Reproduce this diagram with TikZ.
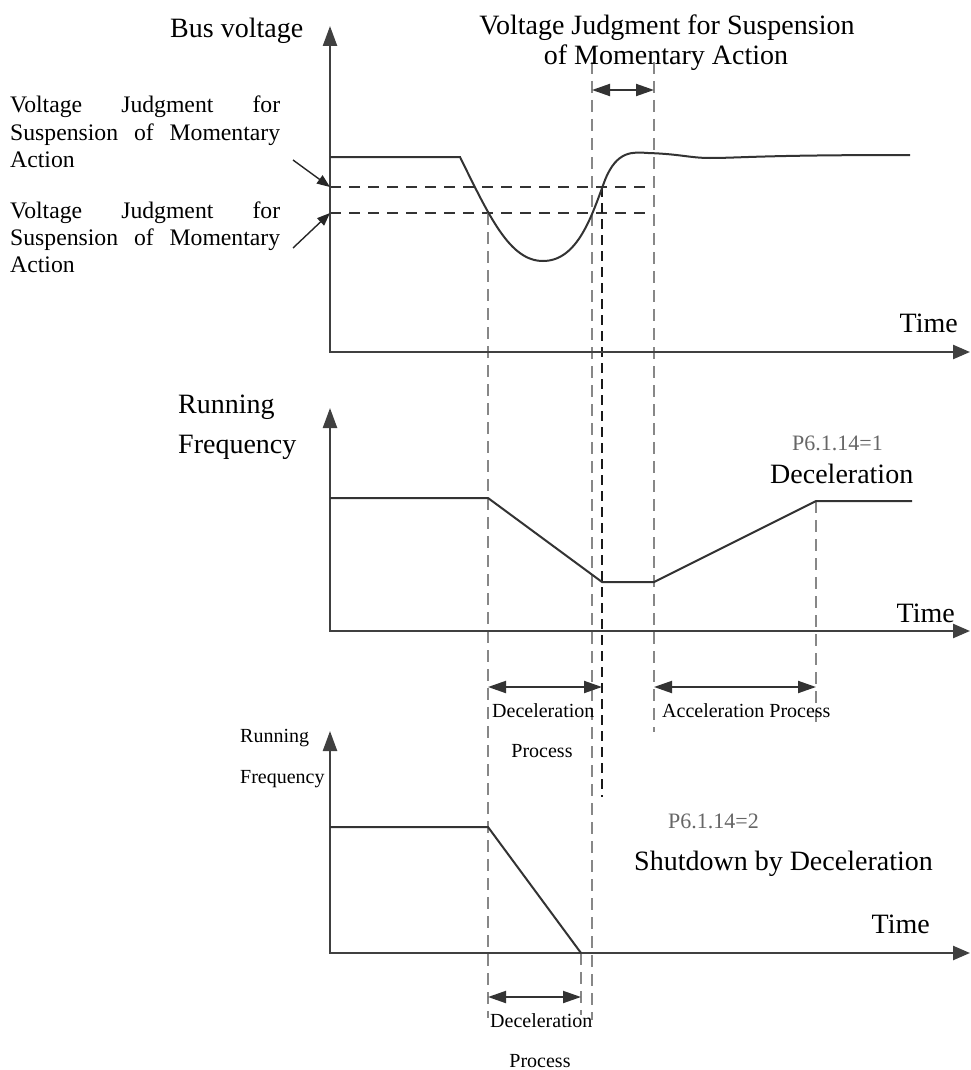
\documentclass[tikz,border=0pt]{standalone}
\usepackage{fontspec}
\setmainfont{Liberation Serif}
\usetikzlibrary{arrows.meta}
\begin{document}
\begin{tikzpicture}[x=1pt,y=-1pt,
  axis/.style={line width=2.4pt, draw=black!75, {Triangle[length=20pt,width=14pt]}-{Triangle[length=17pt,width=14pt]}},
  curve/.style={line width=2pt, draw=black!80},
  gdash/.style={line width=2.8pt, draw=black!47, dash pattern=on 12pt off 7pt},
  hdash/.style={line width=2pt, draw=black!80, dash pattern=on 11pt off 8pt},
  bdash/.style={line width=1.8pt, draw=black!90, dash pattern=on 10pt off 6pt},
  dim/.style={line width=2pt, draw=black!80, {Triangle[length=18pt,width=12pt]}-{Triangle[length=18pt,width=12pt]}},
  pointer/.style={line width=1.4pt, draw=black!85, -{Triangle[length=13pt,width=10pt]}},
  big/.style={font=\fontsize{28}{32}\selectfont, inner sep=0pt},
  mid/.style={font=\fontsize{23.7}{27}\selectfont, inner sep=0pt},
  small/.style={font=\fontsize{20}{24}\selectfont, inner sep=0pt},
  pval/.style={font=\fontsize{22}{26}\selectfont, text=black!60, inner sep=0pt},
]
\useasboundingbox (0,0) rectangle (970,1070);

% ---------- key coordinates ----------
\coordinate (ya1) at (330,26);  \coordinate (o1) at (330,352); \coordinate (xa1) at (970,352);
\coordinate (ya2) at (330,408); \coordinate (o2) at (330,631); \coordinate (xa2) at (970,631);
\coordinate (ya3) at (330,731); \coordinate (o3) at (330,953); \coordinate (xa3) at (970,953);

% ---------- dashed guide lines ----------
\coordinate (h1a) at (330,187); \coordinate (h1b) at (650,187);
\coordinate (h2a) at (330,213); \coordinate (h2b) at (650,213);
\draw[hdash] (h1a) -- (h1b);
\draw[hdash] (h2a) -- (h2b);

\coordinate (v1t) at (488,213); \coordinate (v1b) at (488,1018);
\coordinate (v2t) at (592,62);  \coordinate (v2b) at (592,1020);
\coordinate (vbt) at (602,187); \coordinate (vbb) at (602,797);
\coordinate (v3t) at (654,62);  \coordinate (v3b) at (654,732);
\coordinate (v4t) at (816,501); \coordinate (v4b) at (816,723);
\coordinate (v5t) at (581,953); \coordinate (v5b) at (581,1015);
\draw[gdash] (v1t) -- (v1b);
\draw[gdash] (v2t) -- (v2b);
\draw[bdash] (vbt) -- (vbb);
\draw[gdash] (v3t) -- (v3b);
\draw[gdash] (v4t) -- (v4b);
\draw[gdash] (v5t) -- (v5b);

% ---------- axes ----------
\draw[axis] (ya1) -- (o1) -- (xa1);
\draw[axis] (ya2) -- (o2) -- (xa2);
\draw[axis] (ya3) -- (o3) -- (xa3);

% ---------- bus voltage curve ----------
\coordinate (bv0) at (330,157);
\coordinate (bv1) at (460,157);
\coordinate (bvmin) at (543,261);
\coordinate (bvup) at (605,180);
\coordinate (bvpk) at (648,153);
\coordinate (bvdip) at (710,158);
\coordinate (bvend) at (910,155);
\draw[curve] (bv0) -- (bv1)
  .. controls (490,218) and (510,261) .. (bvmin)
  .. controls (578,261) and (592,215) .. (bvup)
  .. controls (617,150) and (633,152) .. (bvpk)
  .. controls (680,154) and (690,158) .. (bvdip)
  .. controls (740,158) and (760,155) .. (bvend);

% ---------- running frequency (P6.1.14=1) ----------
\coordinate (f0) at (330,498); \coordinate (f1) at (488,498);
\coordinate (f2) at (602,582); \coordinate (f3) at (654,582);
\coordinate (f4) at (816,501); \coordinate (f5) at (912,501);
\draw[curve] (f0) -- (f1) -- (f2) -- (f3) -- (f4) -- (f5);

% ---------- running frequency (P6.1.14=2) ----------
\coordinate (g0) at (330,827); \coordinate (g1) at (488,827); \coordinate (g2) at (581,953);
\draw[curve] (g0) -- (g1) -- (g2);

% ---------- dimension arrows ----------
\coordinate (d0a) at (592,90);  \coordinate (d0b) at (654,90);
\coordinate (d1a) at (488,687); \coordinate (d1b) at (602,687);
\coordinate (d2a) at (654,687); \coordinate (d2b) at (816,687);
\coordinate (d3a) at (488,997); \coordinate (d3b) at (581,997);
\draw[dim] (d0a) -- (d0b);
\draw[dim] (d1a) -- (d1b);
\draw[dim] (d2a) -- (d2b);
\draw[dim] (d3a) -- (d3b);

% ---------- labels ----------
\node[big, anchor=base west] (busv) at (170,38) {Bus voltage};
\node[big, anchor=base] (title1) at (667,35) {Voltage Judgment for Suspension};
\node[big, anchor=base] (title2) at (666,65) {of Momentary Action};

\node[mid, anchor=base west] (la1) at (10,113) {\makebox[270pt][s]{Voltage Judgment for}};
\node[mid, anchor=base west] (la2) at (10,140) {\makebox[270pt][s]{Suspension of Momentary}};
\node[mid, anchor=base west] (la3) at (10,167) {Action};
\node[mid, anchor=base west] (lb1) at (10,218) {\makebox[270pt][s]{Voltage Judgment for}};
\node[mid, anchor=base west] (lb2) at (10,245) {\makebox[270pt][s]{Suspension of Momentary}};
\node[mid, anchor=base west] (lb3) at (10,272) {Action};
\coordinate (pa) at (293,160); \coordinate (pb) at (293,248);
\draw[pointer] (pa) -- (h1a);
\draw[pointer] (pb) -- (h2a);

\node[big, anchor=base east] (time1) at (958,332) {Time};
\node[big, anchor=base east] (time2) at (955,622) {Time};
\node[big, anchor=base east] (time3) at (930,933) {Time};

\node[big, anchor=base west] (run2) at (178,413) {Running};
\node[big, anchor=base west] (freq2) at (178,453) {Frequency};
\node[pval, anchor=base west] (p1) at (792,450) {P6.1.14=1};
\node[big, anchor=base west] (dec2) at (770,483) {Deceleration};

\node[small, anchor=base west] (decp1) at (492,717) {Deceleration};
\node[small, anchor=base] (decp1b) at (542,757) {Process};
\node[small, anchor=base west] (accp) at (662,717) {Acceleration Process};

\node[small, anchor=base west] (run3) at (240,742) {Running};
\node[small, anchor=base west] (freq3) at (240,783) {Frequency};
\node[pval, anchor=base west] (p2) at (668,828) {P6.1.14=2};
\node[big, anchor=base west] (shut) at (634,870) {Shutdown by Deceleration};

\node[small, anchor=base west] (decp3) at (490,1027) {Deceleration};
\node[small, anchor=base] (decp3b) at (540,1067) {Process};
\end{tikzpicture}
\end{document}
